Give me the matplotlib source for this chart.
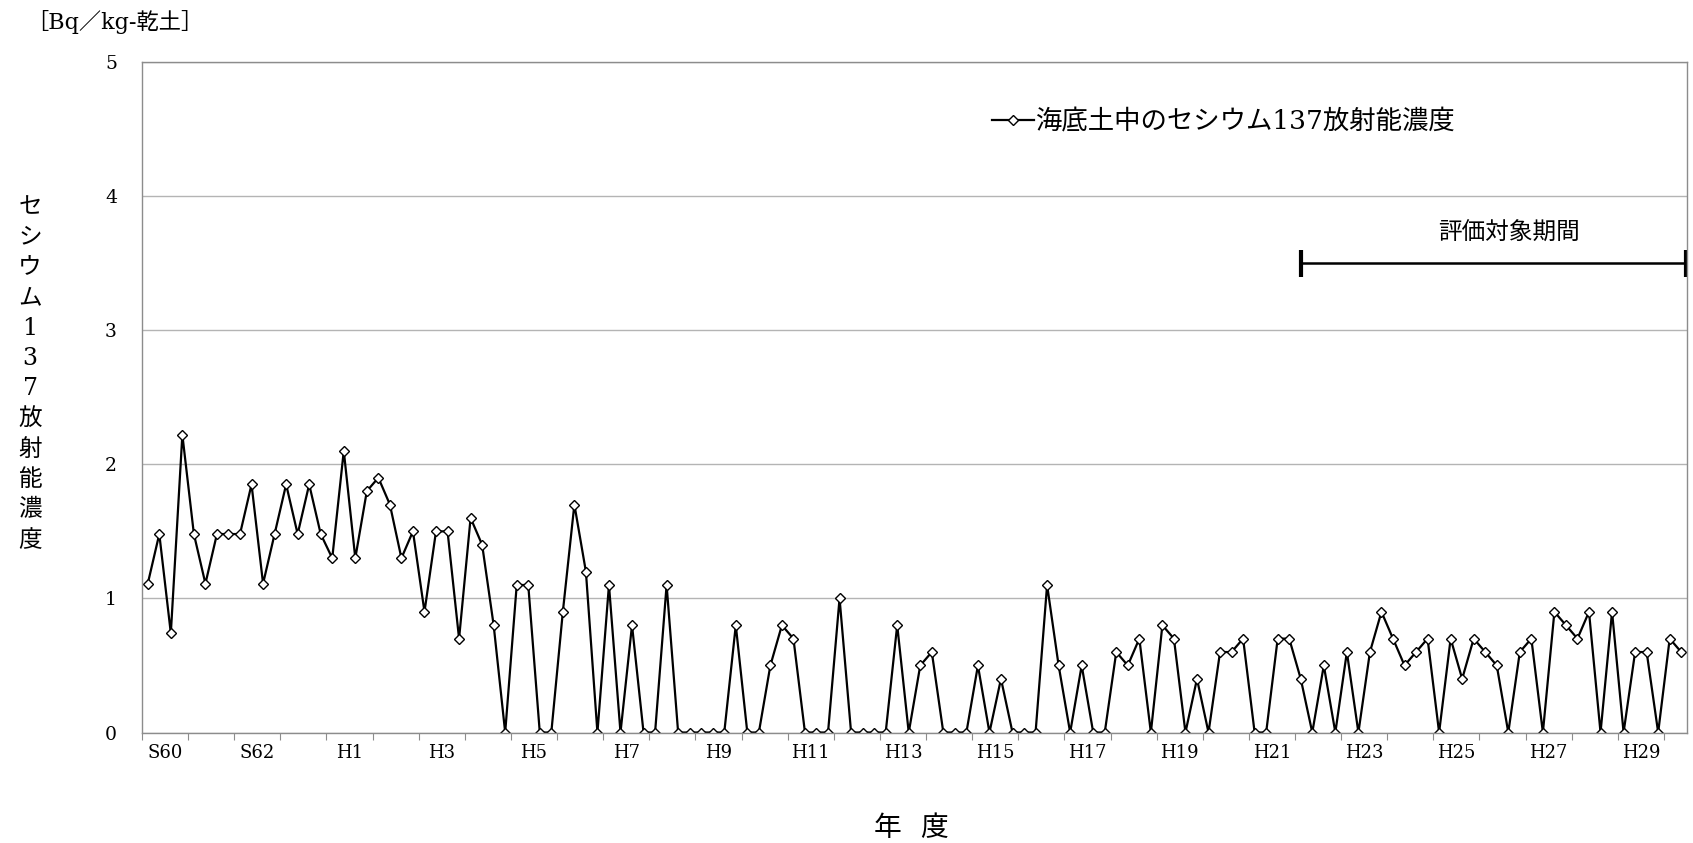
import matplotlib
matplotlib.use('Agg')
import matplotlib.pyplot as plt
import numpy as np

# 海底土中のセシウム137放射能濃度 [Bq/kg-乾土], 四半期ごと (S60 第1四半期 ～ H30 第2四半期)
years = ['S60', 'S61', 'S62', 'S63'] + ['H%d' % k for k in range(1, 31)]
cs137 = [
    1.11, 1.48, 0.74, 2.22, 1.48, 1.11, 1.48, 1.48, 1.48, 1.85, 1.11, 1.48,
    1.85, 1.48, 1.85, 1.48, 1.30, 2.10, 1.30, 1.80, 1.90, 1.70, 1.30, 1.50,
    0.90, 1.50, 1.50, 0.70, 1.60, 1.40, 0.80, 0.00, 1.10, 1.10, 0.00, 0.00,
    0.90, 1.70, 1.20, 0.00, 1.10, 0.00, 0.80, 0.00, 0.00, 1.10, 0.00,
    0.00, 0.00, 0.00, 0.00, 0.80, 0.00, 0.00, 0.50, 0.80, 0.70, 0.00, 0.00,
    0.00, 1.00, 0.00, 0.00, 0.00, 0.00, 0.80, 0.00, 0.50, 0.60, 0.00,
    0.00, 0.00, 0.50, 0.00, 0.40, 0.00, 0.00, 0.00, 1.10, 0.50, 0.00, 0.50,
    0.00, 0.00, 0.60, 0.50, 0.70, 0.00, 0.80, 0.70, 0.00, 0.40, 0.00, 0.60,
    0.60, 0.70, 0.00, 0.00, 0.70, 0.70, 0.40, 0.00, 0.50, 0.00, 0.60, 0.00,
    0.60, 0.90, 0.70, 0.50, 0.60, 0.70, 0.00, 0.70, 0.40, 0.70, 0.60,
    0.50, 0.00, 0.60, 0.70, 0.00, 0.90, 0.80, 0.70, 0.90, 0.00, 0.90, 0.00,
    0.60, 0.60, 0.00, 0.70, 0.60,
]
eval_start_year = 'H22'   # 評価対象期間の開始年度
ylabel_chars = ['セ', 'シ', 'ウ', 'ム', '1', '3', '7', '放', '射', '能', '濃', '度']

SERIF_JP = ['DejaVu Serif', 'Noto Sans CJK JP']
JP = ['Noto Sans CJK JP', 'DejaVu Sans']

n = len(cs137)
x = np.arange(n)

fig = plt.figure(figsize=(16.93, 8.43), dpi=100)
ax = fig.add_axes([142 / 1693, 1 - 732.5 / 843, 1545 / 1693, 670.5 / 843])

ax.plot(x, cs137, color='black', lw=1.6, marker='D', ms=5.6,
        mfc='white', mec='black', mew=1.0,
        label='海底土中のセシウム137放射能濃度')

ax.set_xlim(-0.5, n - 0.5)
ax.set_ylim(0, 5)
ax.set_yticks(range(6))
ax.grid(axis='y', color='#b4b4b4', lw=1.0)
ax.set_axisbelow(True)
for s in ax.spines.values():
    s.set_color('#8c8c8c')
    s.set_linewidth(1.0)

# 年度の区切りに目盛、ラベルは2年ごとに年度の中央
ax.set_xticks(np.arange(-0.5, n - 0.5, 4))
ax.set_xticklabels([])
ax.tick_params(axis='x', which='major', length=5, color='#8c8c8c')
ax.set_xticks([4 * k + 1.5 for k in range(0, len(years), 2) if 4 * k < n], minor=True)
ax.set_xticklabels([years[k] for k in range(0, len(years), 2) if 4 * k < n],
                   minor=True, fontsize=13, family='DejaVu Serif')
ax.tick_params(axis='x', which='minor', length=0, pad=8)
ax.tick_params(axis='y', length=0, pad=18)
for t in ax.get_yticklabels():
    t.set_family('DejaVu Serif')
    t.set_fontsize(13.5)

# 評価対象期間
i0 = 4 * years.index(eval_start_year)
i1 = n - 0.6
ax.hlines(3.5, i0, i1, color='black', lw=1.8)
ax.vlines([i0, i1], 3.4, 3.6, color='black', lw=3)
ax.text((i0 + i1) / 2 + 1.4, 3.72, '評価対象期間', family=JP, fontsize=17,
        ha='center', va='center')

ax.legend(loc='upper left', bbox_to_anchor=(992 / 1693, 1 - 109 / 843),
          bbox_transform=fig.transFigure, frameon=False,
          prop={'family': SERIF_JP, 'size': 19}, handlelength=1.6,
          handletextpad=0.05, borderpad=0, borderaxespad=0)

fig.text(26 / 1693, 1 - 22 / 843, '［Bq／kg-乾土］', family=SERIF_JP,
         fontsize=16, ha='left', va='center')

for k, ch in enumerate(ylabel_chars):
    fig.text(30 / 1693, 1 - (207 + 30.3 * k) / 843, ch, family=SERIF_JP,
             fontsize=17, ha='center', va='center')

fig.text(888 / 1693, 1 - 828 / 843, '年', family=JP, fontsize=20,
         ha='center', va='center')
fig.text(934 / 1693, 1 - 828 / 843, '度', family=JP, fontsize=20,
         ha='center', va='center')

fig.savefig('out.png', dpi=100)
